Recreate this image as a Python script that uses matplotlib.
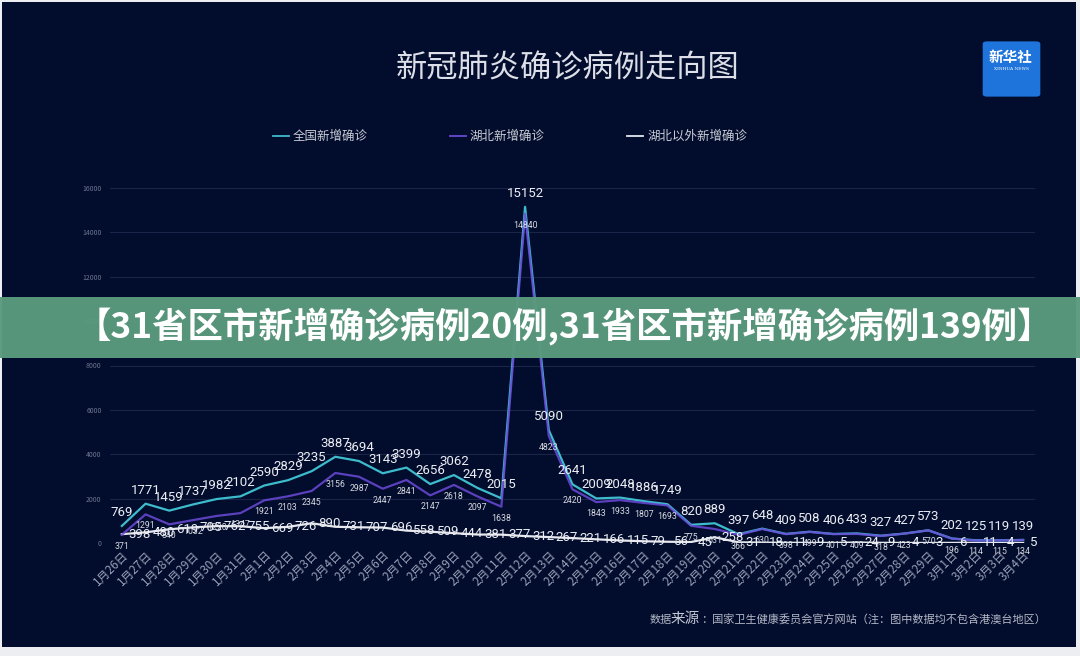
import numpy as np
import matplotlib
matplotlib.use('Agg')
import matplotlib.pyplot as plt
from matplotlib.patches import FancyBboxPatch, Rectangle
from matplotlib.lines import Line2D

plt.rcParams['font.family'] = ['Noto Sans CJK SC', 'DejaVu Sans']

dates = ['1月26日', '1月27日', '1月28日', '1月29日', '1月30日', '1月31日',
         '2月1日', '2月2日', '2月3日', '2月4日', '2月5日', '2月6日', '2月7日',
         '2月8日', '2月9日', '2月10日', '2月11日', '2月12日', '2月13日',
         '2月14日', '2月15日', '2月16日', '2月17日', '2月18日', '2月19日',
         '2月20日', '2月21日', '2月22日', '2月23日', '2月24日', '2月25日',
         '2月26日', '2月27日', '2月28日', '2月29日', '3月1日', '3月2日',
         '3月3日', '3月4日']
national = [769, 1771, 1459, 1737, 1982, 2102, 2590, 2829, 3235, 3887,
            3694, 3143, 3399, 2656, 3062, 2478, 2015, 15152, 5090, 2641,
            2009, 2048, 1886, 1749, 820, 889, 397, 648, 409, 508,
            406, 433, 327, 427, 573, 202, 125, 119, 139]
hubei = [371, 1291, 840, 1032, 1220, 1347, 1921, 2103, 2345, 3156,
         2987, 2447, 2841, 2147, 2618, 2097, 1638, 14840, 4823, 2420,
         1843, 1933, 1807, 1693, 775, 631, 366, 630, 398, 499,
         401, 409, 318, 423, 570, 196, 114, 115, 134]
outside = [398, 480, 619, 705, 762, 755, 669, 726, 890, 731,
           707, 696, 558, 509, 444, 381, 377, 312, 267, 221,
           166, 115, 79, 56, 45, 258, 31, 18, 11, 9,
           5, 24, 9, 4, 3, 6, 11, 4, 5]
y_ticks = [0, 2000, 4000, 6000, 8000, 10000, 12000, 14000, 16000]

W, H = 1080, 656
BG = '#020c2c'
C_NAT = '#3cbccc'
C_HB = '#6a4ad8'
C_OUT = '#e6e8ee'
NUM_FONT = ['Roboto', 'DejaVu Sans']


def fx(px):
    return px / W


def fy(py):
    return 1 - py / H


fig = plt.figure(figsize=(W / 100, H / 100), dpi=100, facecolor='#eceef2')
fig.patches.append(Rectangle((fx(2), fy(647)), fx(1074), (647 - 2) / H,
                             transform=fig.transFigure, facecolor=BG,
                             edgecolor='none', zorder=-10))

ax = fig.add_axes([fx(110), fy(543), fx(925), (543 - 188) / H])
ax.set_facecolor('none')
x = np.arange(len(dates))

ax.plot(x, outside, color=C_OUT, lw=1.6, zorder=3)
ax.plot(x, national, color=C_NAT, lw=1.6, zorder=4)
ax.plot(x, hubei, color=C_HB, lw=1.6, alpha=0.85, zorder=5)

for i, v in enumerate(national):
    ax.annotate(str(v), (i, v), xytext=(0, 5), textcoords='offset points',
                ha='center', va='bottom', fontsize=9.5, color='#eceef4',
                family=NUM_FONT, zorder=6)
for i, v in enumerate(hubei):
    ax.annotate(str(v), (i, v), xytext=(0, -5), textcoords='offset points',
                ha='center', va='top', fontsize=6.3, color='#d8dae2',
                family=NUM_FONT, zorder=6)
for i, v in enumerate(outside):
    ax.annotate(str(v), (i, v), xytext=(5, 0), textcoords='offset points',
                ha='left', va='center', fontsize=9.5, color='#eceef4',
                family=NUM_FONT, zorder=6)

ax.set_xlim(-0.5, 38.5)
ax.set_ylim(0, 16000)
ax.set_yticks(y_ticks)
ax.set_yticklabels([str(t) for t in y_ticks], fontsize=5, color='#6c7590')
ax.set_xticks(x)
ax.set_xticklabels(dates, rotation=45, ha='right', rotation_mode='anchor',
                   fontsize=8.5, color='#98a0b8')
ax.tick_params(axis='both', length=0)
ax.tick_params(axis='y', pad=6)
ax.tick_params(axis='x', pad=4)
ax.grid(axis='y', color='#1a2448', lw=0.8)
ax.set_axisbelow(True)
for s in ax.spines.values():
    s.set_visible(False)

fig.text(fx(568), fy(68), '新冠肺炎确诊病例走向图', ha='center', va='center',
         fontsize=22.5, color='#dcdfe8')

legend_items = [(273, '全国新增确诊', C_NAT), (450, '湖北新增确诊', C_HB),
                (627, '湖北以外新增确诊', C_OUT)]
for px, label, c in legend_items:
    fig.lines.append(Line2D([fx(px), fx(px + 16)], [fy(136), fy(136)],
                            transform=fig.transFigure, color=c, lw=1.3))
    fig.text(fx(px + 20), fy(136), label, ha='left', va='center',
             fontsize=9, color='#c8ccd6')

# footer
fig.text(fx(650), fy(620), '数据', ha='left', va='center', fontsize=8,
         color='#b4b8c6')
fig.text(fx(671), fy(619), '来源', ha='left', va='center', fontsize=10.5,
         color='#c4c8d4')
fig.text(fx(701), fy(620), '：国家卫生健康委员会官方网站（注：图中数据均不包含港澳台地区）',
         ha='left', va='center', fontsize=8, color='#b4b8c6')

# logo
fig.patches.append(FancyBboxPatch((fx(987), fy(94)), fx(49), 50 / H,
                                  boxstyle='round,pad=0.004',
                                  transform=fig.transFigure,
                                  facecolor='#1f74dc', edgecolor='none'))
fig.text(fx(1011), fy(57), '新华社', ha='center', va='center', fontsize=10.5,
         color='white', weight='bold')
fig.text(fx(1011), fy(69), 'XINHUA NEWS', ha='center', va='center',
         fontsize=3.2, color='white', family=['DejaVu Serif'])
lax = fig.add_axes([fx(990), fy(93), fx(42), 20 / H])
lax.set_xlim(0, 10)
lax.set_ylim(0, 5)
lax.axis('off')
nx = [1, 2.5, 4, 5.5, 7, 8.5, 2, 3.8, 6, 8, 5]
ny = [0.8, 2.2, 3.4, 4.0, 3.4, 2.2, 0.6, 1.5, 1.6, 0.7, 2.4]
lax.plot(nx[:6], ny[:6], color='#8fd0ff', lw=0.4, alpha=0.7)
lax.plot([2.5, 3.8, 5, 6, 7], [2.2, 1.5, 2.4, 1.6, 3.4], color='#8fd0ff',
         lw=0.4, alpha=0.7)
lax.scatter(nx, ny, s=2, color='white', zorder=3)

# banner
fig.patches.append(Rectangle((0, fy(358)), 1, (358 - 297) / H,
                             transform=fig.transFigure, facecolor='#5b9a7e',
                             edgecolor='none', alpha=0.97, zorder=20))
fig.text(fx(564), fy(327), '【31省区市新增确诊病例20例,31省区市新增确诊病例139例】',
         ha='center', va='center', fontsize=25.5, color='white',
         weight='bold', zorder=21)

fig.savefig('out.png', dpi=100, facecolor=fig.get_facecolor())
